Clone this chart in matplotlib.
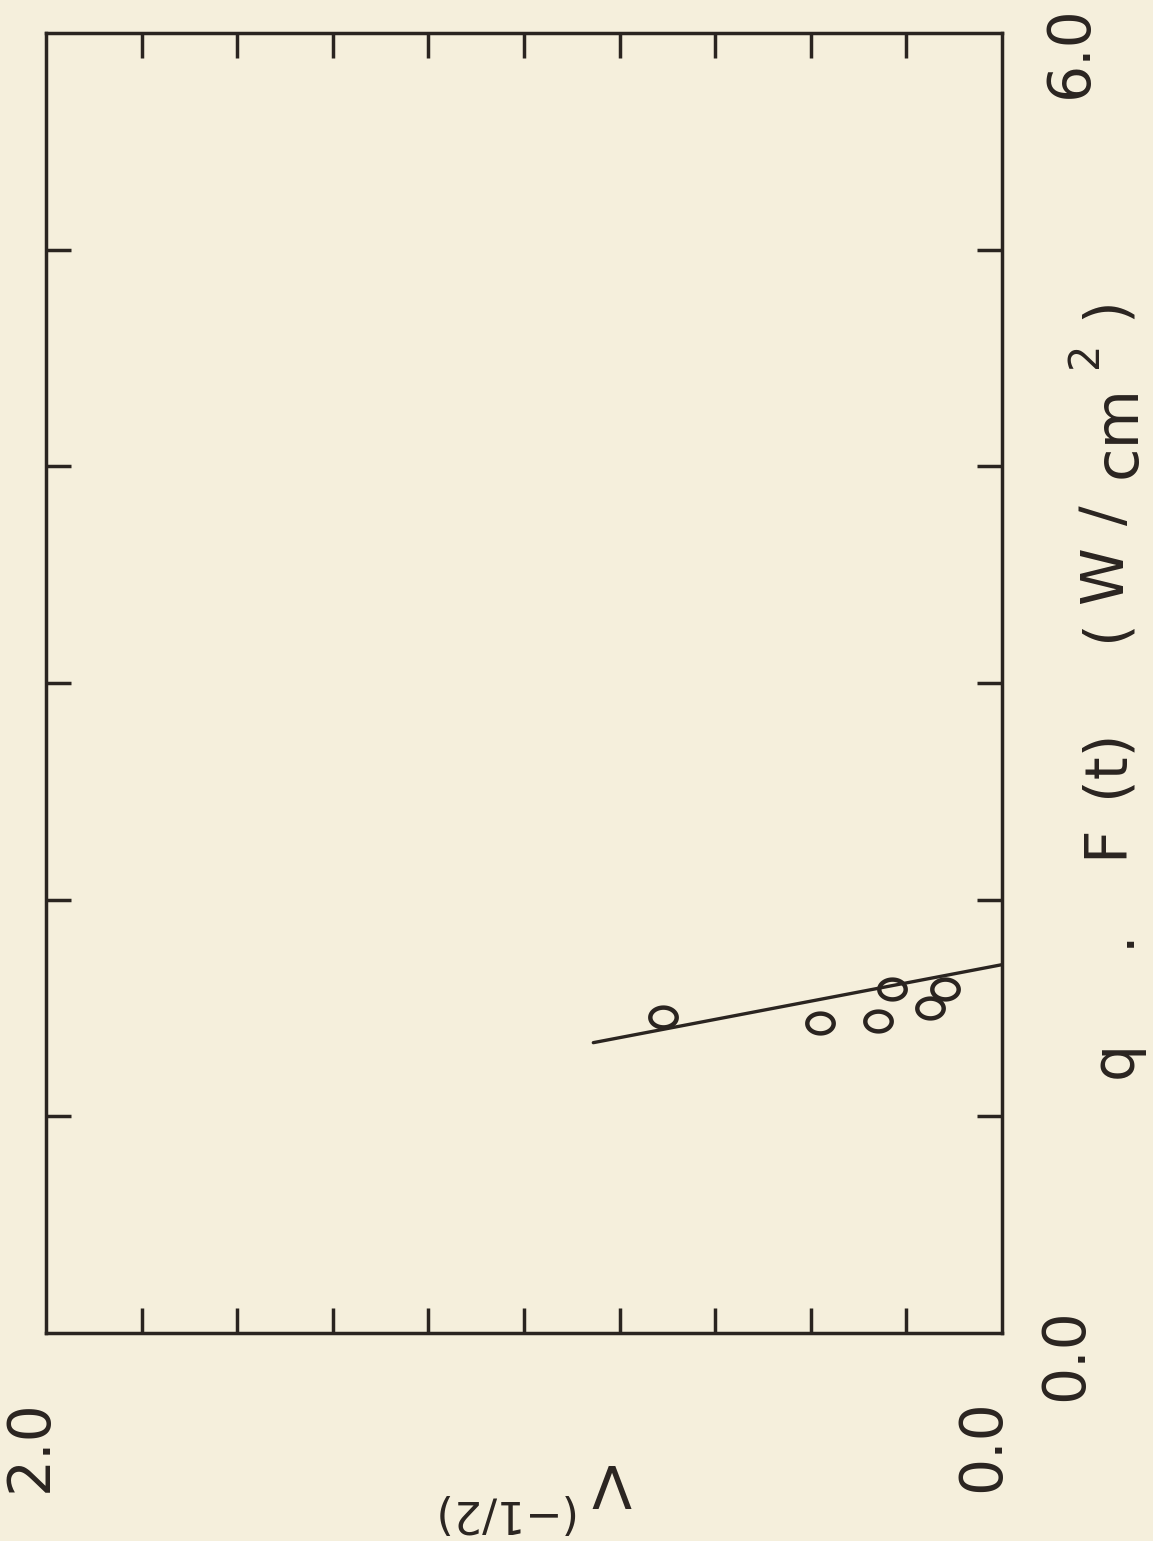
import matplotlib
matplotlib.use("Agg")
import matplotlib.pyplot as plt
import numpy as np
from matplotlib.path import Path

# Measured points: flux q*F(t) (W/cm^2) and V^(-1/2)
flux = [1.46, 1.43, 1.44, 1.59, 1.50, 1.59]
v_inv_sqrt = [0.71, 0.38, 0.26, 0.23, 0.15, 0.12]

# Fitted line
fit_flux = [1.34, 1.70]
fit_v = [0.855, 0.0]

# Axis ranges and tick positions
v_range = (2.0, 0.0)
flux_range = (0.0, 6.0)
v_ticks = [0.2, 0.4, 0.6, 0.8, 1.0, 1.2, 1.4, 1.6, 1.8]
flux_ticks = [1.0, 2.0, 3.0, 4.0, 5.0]

INK = "#2a2420"
PAPER = "#f5efdc"
W, H = 1153, 1541

plt.rcParams["font.family"] = ["DejaVu Sans"]

fig = plt.figure(figsize=(W / 100, H / 100), dpi=100, facecolor=PAPER)


def fx(x):
    return x / W


def fy(y):
    return 1 - y / H


# The page is turned a quarter: flux runs up the right side, V^(-1/2) along the bottom
ax = fig.add_axes([fx(46), fy(1333), fx(1002) - fx(46), fy(33) - fy(1333)])
ax.set_facecolor(PAPER)
ax.set_xlim(*v_range)
ax.set_ylim(*flux_range)
ax.set_xticks(v_ticks)
ax.set_yticks(flux_ticks)
ax.tick_params(direction="in", length=18, width=2.5, color=INK,
               top=True, right=True, bottom=True, left=True,
               labelbottom=False, labelleft=False)
for sp in ax.spines.values():
    sp.set_color(INK)
    sp.set_linewidth(2.5)

# elliptical open marker
t = np.linspace(0, 2 * np.pi, 60)
ellipse = Path(np.column_stack([np.cos(t), 0.75 * np.sin(t)]), closed=True)

ax.plot(fit_v, fit_flux, color=INK, lw=2.4, solid_capstyle="round", clip_on=False)
ax.plot(v_inv_sqrt, flux, linestyle="none", marker=ellipse, markersize=19,
        markerfacecolor="none", markeredgecolor=INK, markeredgewidth=3.2)

FS = 42
kw = dict(color=INK, ha="center", va="center", fontsize=FS)

# tick labels at the ends of each scale
fig.text(fx(30), fy(1446), "2.0", rotation=90, **kw)
fig.text(fx(983), fy(1446), "0.0", rotation=90, **kw)
fig.text(fx(1066), fy(1355), "0.0", rotation=90, **kw)
fig.text(fx(1070), fy(52), "6.0", rotation=90, **kw)

# flux axis title, reading upward, set letter by letter
title_parts = [
    ("q", 1115, 1060, FS),
    (".", 1112, 938, FS),
    ("F", 1105, 841, FS),
    ("(t)", 1106, 763, FS),
    ("(", 1106, 630, FS),
    ("W", 1106, 575, FS),
    ("/", 1106, 515, FS),
    ("cm", 1119, 431, FS + 2),
    ("2", 1085, 355, 30),
    (")", 1106, 308, FS),
]
for s, px, py, size in title_parts:
    fig.text(fx(px), fy(py), s, rotation=90, color=INK, ha="center", va="center",
             fontsize=size)

# V^(-1/2) title, upside down
fig.text(fx(612), fy(1481), "V", rotation=180, **kw)
fig.text(fx(500), fy(1512), "(−1/2)", rotation=180, color=INK, ha="center", va="center",
         fontsize=32)

fig.savefig("out.png", dpi=100, facecolor=PAPER)
